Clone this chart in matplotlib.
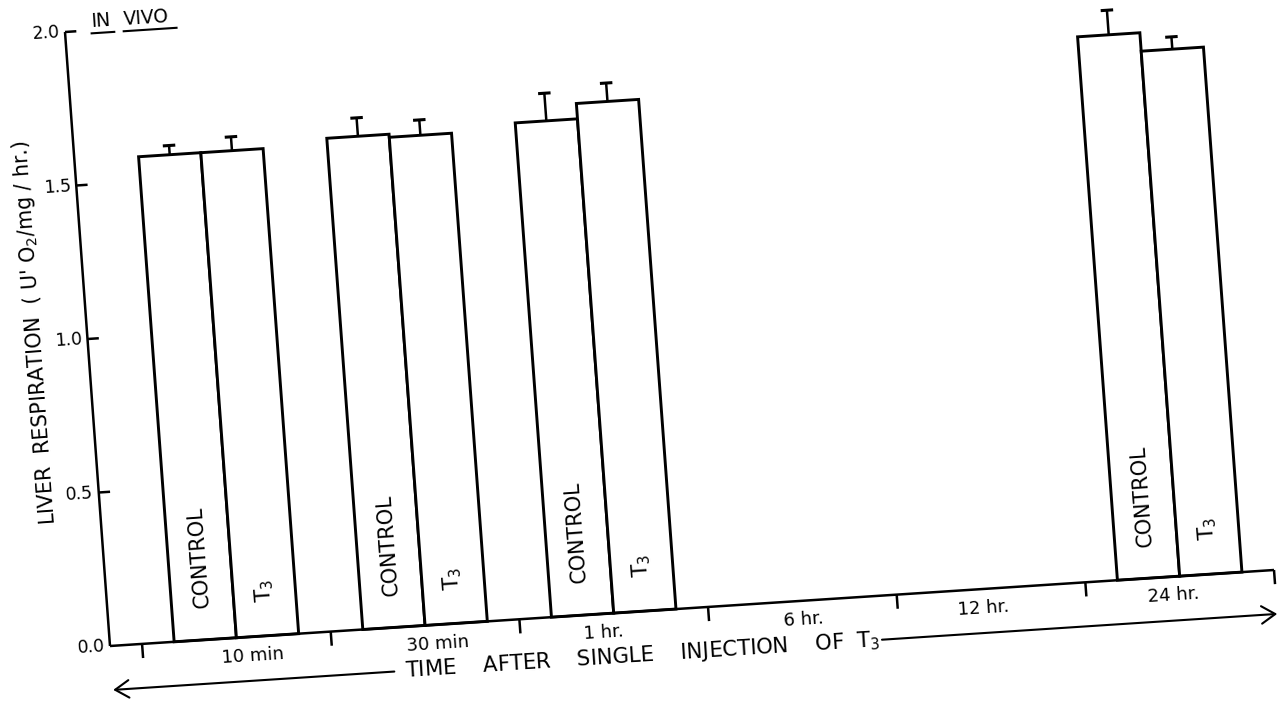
import numpy as np
import matplotlib
matplotlib.use('Agg')
import matplotlib.pyplot as plt
from matplotlib.transforms import Affine2D

# liver respiration after a single T3 injection, in vivo
times = ['10 min', '30 min', '1 hr.', '6 hr.', '12 hr.', '24 hr.']
control = [1.58, 1.60, 1.61, np.nan, np.nan, 1.77]
control_err = [0.03, 0.06, 0.09, np.nan, np.nan, 0.08]
t3 = [1.58, 1.59, 1.66, np.nan, np.nan, 1.71]
t3_err = [0.045, 0.05, 0.06, np.nan, np.nan, 0.04]
yticks = [0.5, 1.0, 1.5, 2.0]
ytick_labels = ['0.0', '0.5', '1.0', '1.5', '2.0']

W, H = 1283, 706
fig = plt.figure(figsize=(W / 100, H / 100), dpi=100)
ax = fig.add_axes([0, 0, 1, 1])
ax.set_axis_off()
x0, x1 = -0.17, float(len(times))
ax.set_xlim(x0, x1)
ax.set_ylim(0, 2.0)

# the drawing sits a few degrees off square on the sheet:
# map the unit axes box onto a tilted frame in pixels
origin = (110, H - 646)
e_x = (1164, 76)
e_y = (-45, 614)
skew = Affine2D(np.array([[e_x[0], e_y[0], origin[0]],
                          [e_x[1], e_y[1], origin[1]],
                          [0.0, 0.0, 1.0]]))
tr = ax.transScale + ax.transLimits + skew

ink = 'black'
txt = dict(color=ink, transform=tr, transform_rotates_text=True,
           rotation_mode='anchor', clip_on=False)

x = np.arange(len(times)) + 0.5
w = 0.33
c = np.array(control)
ce = np.array(control_err)
t = np.array(t3)
te = np.array(t3_err)
has = ~np.isnan(c)

bars_c = ax.bar(x[has] - w / 2, c[has], width=w, facecolor='white',
                edgecolor=ink, linewidth=2.1)
bars_t = ax.bar(x[has] + w / 2, t[has], width=w, facecolor='white',
                edgecolor=ink, linewidth=2.1)
for b in list(bars_c) + list(bars_t):
    b.set_transform(tr)
    b.set_clip_on(False)

# upper error bars only
for xs, v, e in ((x - w / 2, c, ce), (x + w / 2, t, te)):
    m = ~np.isnan(v)
    ax.vlines(xs[m], v[m], v[m] + e[m], colors=ink, lw=1.8,
              transform=tr, clip_on=False)
    ax.hlines(v[m] + e[m], xs[m] - 0.033, xs[m] + 0.033, colors=ink,
              lw=2.2, transform=tr, clip_on=False)

# axes
ax.plot([x0, x1], [0, 0], color=ink, lw=1.8, transform=tr, clip_on=False,
        solid_capstyle='butt')
ax.plot([x0, x0], [0, 2.0], color=ink, lw=1.8, transform=tr, clip_on=False,
        solid_capstyle='butt')
ax.vlines(np.arange(len(times) + 1), -0.046, 0, colors=ink, lw=1.8,
          transform=tr, clip_on=False)
ax.hlines(yticks, x0, x0 + 0.06, colors=ink, lw=1.8, transform=tr,
          clip_on=False)

for val, lab in zip([0.0] + yticks, ytick_labels):
    ax.text(x0 - 0.028, val, lab, fontsize=12.5, ha='right', va='center', **txt)

label_nudge = [0.08, 0.06, -0.06, 0.0, -0.05, -0.04]
for xi, name, dx in zip(x, times, label_nudge):
    ax.text(xi + dx, -0.062, name, fontsize=13, ha='center', va='center', **txt)

# group names written inside the bars
for i in np.where(has)[0]:
    ax.text(x[i] - w / 2, 0.105, 'CONTROL', fontsize=15, rotation=90,
            ha='left', va='center', **txt)
    ax.text(x[i] + w / 2, 0.11, 'T$_3$', fontsize=15, rotation=90,
            ha='left', va='center', **txt)

ax.text(-0.444, 1.03, "LIVER  RESPIRATION  ( U' O$_2$/mg / hr.)", fontsize=14.8,
        rotation=90, ha='center', va='center', **txt)

# in vivo heading, underlined word by word
ax.text(-0.028, 2.011, 'IN', fontsize=13.5, ha='left', va='baseline', **txt)
ax.text(0.144, 2.011, 'VIVO', fontsize=13.5, ha='left', va='baseline', **txt)
ax.plot([-0.03, 0.09], [1.99, 1.99], color=ink, lw=1.5, transform=tr,
        clip_on=False)
ax.plot([0.14, 0.42], [1.99, 1.99], color=ink, lw=1.5, transform=tr,
        clip_on=False)

# time arrow under the axis
y_arrow = -0.143
ax.text(1.377, y_arrow, 'TIME    AFTER    SINGLE    INJECTION    OF  T$_3$',
        fontsize=15.2, ha='left', va='center', **txt)
head = dict(arrowstyle='->,head_length=0.55,head_width=0.35', color=ink,
            lw=1.5, shrinkA=0, shrinkB=0, mutation_scale=18)
ax.annotate('', xy=(x0, y_arrow), xytext=(1.32, y_arrow), xycoords=tr,
            textcoords=tr, arrowprops=head, annotation_clip=False)
ax.annotate('', xy=(x1, y_arrow), xytext=(3.905, y_arrow), xycoords=tr,
            textcoords=tr, arrowprops=head, annotation_clip=False)

fig.savefig('out.png', dpi=100, facecolor='white')
